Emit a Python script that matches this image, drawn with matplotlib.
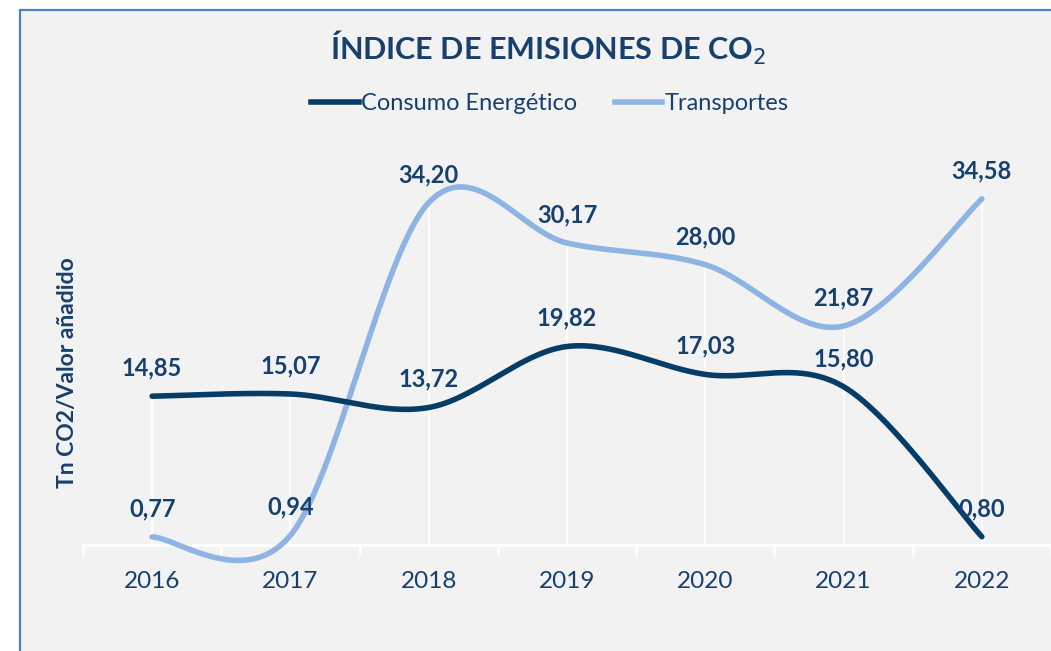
import numpy as np
import matplotlib
matplotlib.use("Agg")
from matplotlib import pyplot as plt
from matplotlib.patches import Rectangle
from matplotlib.lines import Line2D

years = ["2016", "2017", "2018", "2019", "2020", "2021", "2022"]
consumo = [14.85, 15.07, 13.72, 19.82, 17.03, 15.80, 0.80]
transportes = [0.77, 0.94, 34.20, 30.17, 28.00, 21.87, 34.58]

dark = "#053D66"
light = "#8EB4E3"
txt = "#17406D"
bg = "#F2F2F2"

plt.rcParams['font.family'] = ['Lato', 'DejaVu Sans']


def smooth(xs, ys, n=60):
    # Bezier curve through points, like Excel's smoothed line
    xs = np.asarray(xs, float)
    ys = np.asarray(ys, float)
    P = np.column_stack([xs, ys])
    out = []
    for i in range(len(P) - 1):
        p0 = P[i - 1] if i > 0 else P[i]
        p1 = P[i]
        p2 = P[i + 1]
        p3 = P[i + 2] if i + 2 < len(P) else P[i + 1]
        c1 = p1 + (p2 - p0) / 6
        c2 = p2 - (p3 - p1) / 6
        t = np.linspace(0, 1, n)[:, None]
        seg = (1 - t)**3 * p1 + 3 * (1 - t)**2 * t * c1 + 3 * (1 - t) * t**2 * c2 + t**3 * p2
        out.append(seg if i == 0 else seg[1:])
    out = np.vstack(out)
    return out[:, 0], out[:, 1]


fig = plt.figure(figsize=(10.51, 6.51), dpi=100)
fig.patch.set_facecolor("white")
W, H = 1051, 651
fig.patches.append(Rectangle((20 / W, -0.05), 1.1, 1 - 10 / H + 0.05, transform=fig.transFigure,
                             facecolor=bg, edgecolor="#4F81BD", linewidth=1.6, zorder=-10))

ax = fig.add_axes([83 / W, 1 - 544.7 / H, 968 / W, 400 / H])
ax.set_facecolor("none")
x = np.arange(len(years))

# drop lines
top = np.maximum(consumo, transportes)
ax.vlines(x, 0, top, color="white", linewidth=1.3, zorder=1)

sx, sy = smooth(x, transportes)
ax.plot(sx, sy, color=light, linewidth=4, solid_capstyle="round", clip_on=False, zorder=3)
sx, sy = smooth(x, consumo)
ax.plot(sx, sy, color=dark, linewidth=4, solid_capstyle="round", clip_on=False, zorder=4)

for xi, v in zip(x, consumo):
    ax.annotate(f"{v:.2f}".replace(".", ","), (xi, v), xytext=(0, 12), textcoords="offset points",
                ha="center", va="bottom", fontsize=17, fontweight="bold", color=txt, zorder=5)
for xi, v in zip(x, transportes):
    ax.annotate(f"{v:.2f}".replace(".", ","), (xi, v), xytext=(0, 12), textcoords="offset points",
                ha="center", va="bottom", fontsize=17, fontweight="bold", color=txt, zorder=5)

ax.set_xlim(-0.5, len(years) - 0.5)
ax.set_ylim(0, 40)
for s in ["top", "right", "left"]:
    ax.spines[s].set_visible(False)
ax.spines["bottom"].set_color("white")
ax.spines["bottom"].set_linewidth(2)
ax.set_yticks([])
ax.set_xticks(np.arange(-0.5, len(years)), minor=False)
ax.set_xticklabels([])
ax.set_xticks(x, minor=True)
ax.set_xticklabels(years, minor=True)
ax.tick_params(axis="x", which="major", length=7, width=2, color="white")
ax.tick_params(axis="x", which="minor", length=0, pad=19, labelsize=17.5, labelcolor=txt)

ax.set_ylabel("Tn CO2/Valor añadido", fontsize=16.5, fontweight="bold", color=txt)
ax.yaxis.set_label_coords(-0.005, 0.43)

fig.text(548 / W, 1 - 48 / H, "ÍNDICE DE EMISIONES DE CO$_2$", ha="center", va="center",
         fontsize=22, fontweight="bold", color=txt)

handles = [Line2D([], [], color=dark, linewidth=4), Line2D([], [], color=light, linewidth=4)]
fig.legend(handles, ["Consumo Energético", "Transportes"], loc="center", bbox_to_anchor=(550 / W, 1 - 104 / H),
           ncol=2, frameon=False, fontsize=17, labelcolor=txt, handlelength=2.0, handletextpad=0.1,
           columnspacing=1.6)

fig.savefig("out.png", dpi=100, facecolor=fig.get_facecolor())
